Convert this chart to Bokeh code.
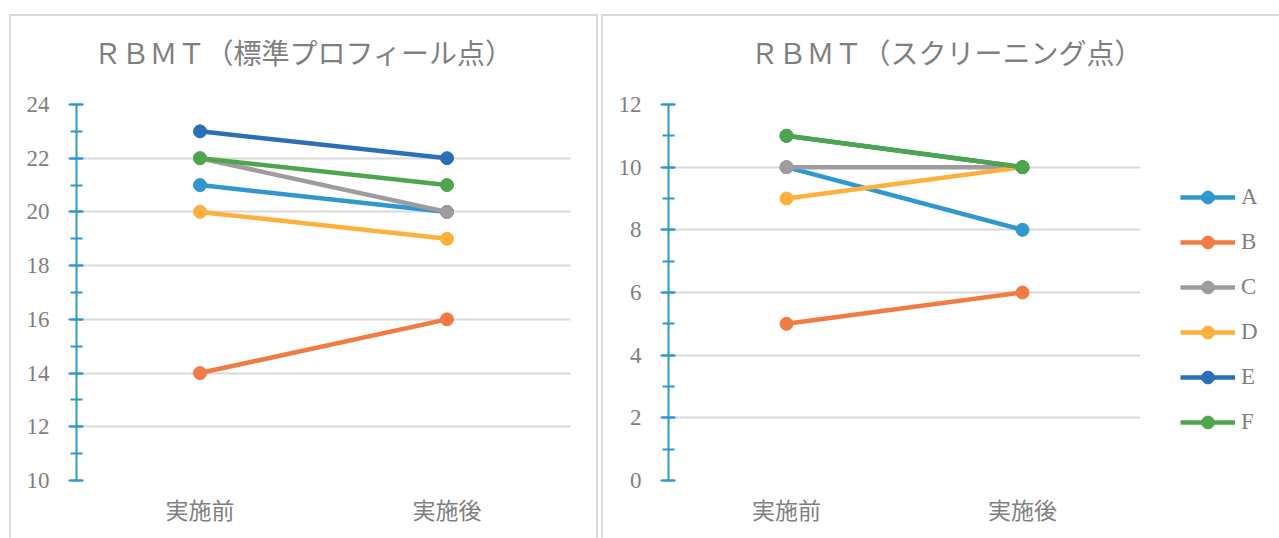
from bokeh.plotting import figure
from bokeh.layouts import row
from bokeh.models import FactorRange, Range1d, SingleIntervalTicker, Legend, LegendItem
from bokeh.embed import file_html
from bokeh.resources import INLINE

# categories
phases = ["実施前", "実施後"]
series_names = ["A", "B", "C", "D", "E", "F"]
series_colors = ["#2E98CF", "#F27B43", "#9D9D9F", "#FDB13C", "#2A6FB7", "#4EA64C"]

# RBMT standard profile score (before / after), in order A..F
profile_before = [21, 14, 22, 20, 23, 22]
profile_after = [20, 16, 20, 19, 22, 21]

# RBMT screening score (before / after), in order A..F
screening_before = [10, 5, 10, 9, 11, 11]
screening_after = [8, 6, 10, 10, 10, 10]

profile_title = "ＲＢＭＴ（標準プロフィール点）"
screening_title = "ＲＢＭＴ（スクリーニング点）"

FONT = "Liberation Serif, Noto Sans CJK JP"
TEXT_GREY = "#7F7F7F"
GRID_GREY = "#D9D9D9"
AXIS_BLUE = "#2E98CF"

# chart-area box: top, left and right edges drawn 14px below the top of each panel
_edge = f"linear-gradient({GRID_GREY}, {GRID_GREY})"
PANEL_STYLES = {
    "background-image": f"{_edge}, {_edge}, {_edge}",
    "background-position": "0 14px, 0 14px, 100% 14px",
    "background-size": "100% 2px, 2px 100%, 2px 100%",
    "background-repeat": "no-repeat",
    "background-color": "white",
}


def make_panel(title, before, after, y_start, y_end, frame_width,
               border_left, border_right, title_offset, margin, legend_at):
    p = figure(
        x_range=FactorRange(*phases, range_padding=0),
        y_range=Range1d(y_start, y_end),
        frame_width=frame_width, frame_height=376,
        output_backend="svg", toolbar_location=None,
        min_border_left=border_left, min_border_right=border_right,
        min_border_top=104, min_border_bottom=58,
        margin=margin,
    )
    p.border_fill_color = None
    p.background_fill_color = None
    p.outline_line_color = None
    p.styles = PANEL_STYLES

    p.title.text = title
    p.title.align = "left"
    p.title.offset = title_offset
    p.title.text_font = FONT
    p.title.text_font_size = "28px"
    p.title.text_font_style = "normal"
    p.title.text_color = TEXT_GREY
    p.title.standoff = 70

    # value axis
    yax = p.yaxis[0]
    yax.ticker = SingleIntervalTicker(interval=2, num_minor_ticks=2)
    yax.axis_line_color = AXIS_BLUE
    yax.axis_line_width = 2
    yax.major_tick_line_color = AXIS_BLUE
    yax.major_tick_line_width = 2
    yax.major_tick_in = 7
    yax.major_tick_out = 8
    yax.minor_tick_line_color = AXIS_BLUE
    yax.minor_tick_line_width = 2
    yax.minor_tick_in = 6
    yax.minor_tick_out = 6
    yax.major_label_text_font = FONT
    yax.major_label_text_font_size = "23px"
    yax.major_label_text_color = TEXT_GREY
    yax.major_label_standoff = 19

    # category axis
    xax = p.xaxis[0]
    xax.axis_line_color = None
    xax.major_tick_line_color = None
    xax.minor_tick_line_color = None
    xax.major_label_text_font = FONT
    xax.major_label_text_font_size = "23px"
    xax.major_label_text_color = TEXT_GREY
    xax.major_label_standoff = 12

    p.xgrid.grid_line_color = None
    p.ygrid.ticker = SingleIntervalTicker(interval=2)
    p.ygrid.grid_line_color = GRID_GREY
    p.ygrid.grid_line_width = 2
    p.ygrid.level = "image"

    items = []
    for name, color, b, a in zip(series_names, series_colors, before, after):
        ys = [b, a]
        ln = p.line(phases, ys, line_color=color, line_width=4.5)
        sc = p.scatter(phases, ys, size=13, fill_color=color, line_color=color)
        items.append(LegendItem(label=name, renderers=[ln, sc]))

    if legend_at is not None:
        legend = Legend(items=items, location=legend_at)
        legend.border_line_color = None
        legend.background_fill_color = None
        legend.background_fill_alpha = 0
        legend.label_text_font = FONT
        legend.label_text_font_size = "23px"
        legend.label_text_color = TEXT_GREY
        legend.glyph_width = 55
        legend.glyph_height = 32
        legend.label_height = 32
        legend.spacing = 13
        legend.label_standoff = 6
        legend.padding = 0
        legend.margin = 0
        p.add_layout(legend, "right")
    return p


left = make_panel(profile_title, profile_before, profile_after, 10, 24,
                  frame_width=494, border_left=67, border_right=28,
                  title_offset=17, margin=(0, 0, 0, 9), legend_at=None)
right = make_panel(screening_title, screening_before, screening_after, 0, 12,
                   frame_width=472, border_left=67, border_right=139,
                   title_offset=82, margin=(0, 0, 0, 3), legend_at=(40, 42))

layout = row(left, right, spacing=0)
open("out.html", "w").write(file_html(layout, INLINE))
